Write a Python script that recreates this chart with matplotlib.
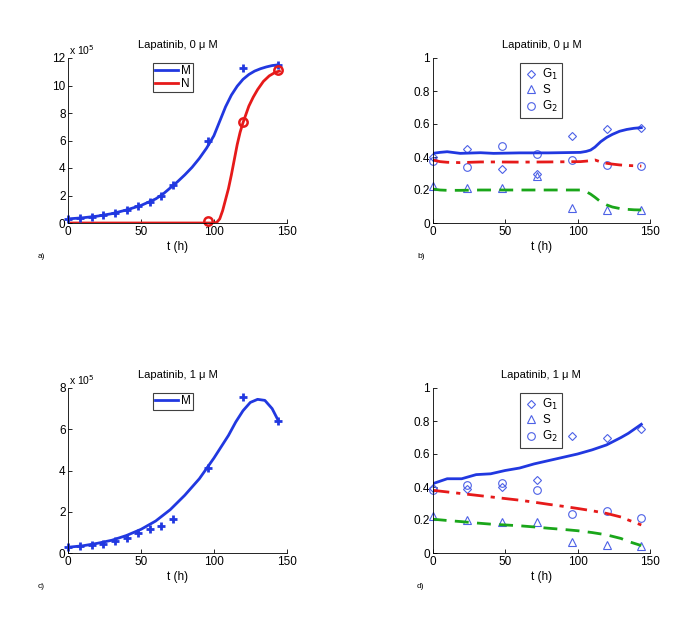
import matplotlib
matplotlib.use("Agg")
import matplotlib.pyplot as plt

plt.rcParams['font.family'] = ['Liberation Sans', 'DejaVu Sans']

# ---- data ----
t_obs = [0, 8, 16, 24, 32, 40, 48, 56, 64, 72, 96, 120, 144]
t_frac = [0, 24, 48, 72, 96, 120, 144]

# a) 0 uM, cell counts (x 1e5)
M0_obs = [0.32, 0.36, 0.44, 0.56, 0.73, 0.97, 1.21, 1.55, 1.96, 2.79, 5.94, 11.25, 11.5]
N0_t = [96, 120, 144]
N0_obs = [0.12, 7.32, 11.15]
M0_fit_t = [0, 10, 20, 30, 40, 50, 60, 65, 70, 75, 80, 85, 90, 95, 100, 104, 108, 112,
            116, 120, 124, 128, 132, 136, 140, 144]
M0_fit = [0.3, 0.38, 0.5, 0.68, 0.95, 1.28, 1.75, 2.1, 2.55, 3.0, 3.5, 4.05, 4.7, 5.45,
          6.35, 7.4, 8.45, 9.3, 9.95, 10.45, 10.8, 11.05, 11.22, 11.35, 11.45, 11.5]
N0_fit_t = [0, 100, 102, 104, 106, 108, 110, 112, 114, 116, 118, 120, 122, 124, 127,
            130, 134, 138, 142, 145]
N0_fit = [0, 0, 0.05, 0.3, 0.9, 1.7, 2.5, 3.5, 4.6, 5.7, 6.6, 7.3, 7.9, 8.5, 9.15,
          9.7, 10.3, 10.7, 10.95, 11.05]

# b) 0 uM, phase fractions
G1_0 = [0.40, 0.448, 0.33, 0.30, 0.53, 0.57, 0.576]
S_0 = [0.222, 0.212, 0.212, 0.283, 0.09, 0.077, 0.077]
G2_0 = [0.378, 0.34, 0.465, 0.418, 0.384, 0.354, 0.348]
fb_t = [0, 5, 10, 19, 33, 42, 60, 80, 102, 106, 109, 112, 116, 120, 124, 129, 134, 139, 144]
G1_0_fit = [0.422, 0.428, 0.432, 0.422, 0.426, 0.422, 0.425, 0.425, 0.428, 0.434, 0.442,
            0.46, 0.493, 0.518, 0.537, 0.556, 0.567, 0.574, 0.578]
S_0_fit = [0.206, 0.2, 0.198, 0.198, 0.2, 0.2, 0.2, 0.2, 0.2, 0.19, 0.175, 0.156, 0.128,
           0.11, 0.097, 0.088, 0.083, 0.08, 0.079]
G2_0_fit = [0.382, 0.372, 0.368, 0.366, 0.37, 0.37, 0.369, 0.37, 0.372, 0.375, 0.378,
            0.382, 0.37, 0.362, 0.357, 0.352, 0.349, 0.347, 0.345]

# c) 1 uM, cell counts (x 1e5)
M1_obs = [0.27, 0.32, 0.37, 0.44, 0.57, 0.73, 0.97, 1.16, 1.29, 1.65, 4.12, 7.56, 6.42]
M1_fit_t = [0, 10, 20, 30, 40, 50, 60, 70, 80, 90, 100, 110, 115, 120, 125, 130, 135,
            140, 144]
M1_fit = [0.28, 0.35, 0.47, 0.62, 0.85, 1.15, 1.55, 2.1, 2.8, 3.6, 4.6, 5.7, 6.35, 6.9,
          7.3, 7.45, 7.4, 7.0, 6.45]

# d) 1 uM, phase fractions
G1_1 = [0.394, 0.39, 0.40, 0.444, 0.707, 0.70, 0.75]
S_1 = [0.222, 0.20, 0.186, 0.186, 0.065, 0.048, 0.04]
G2_1 = [0.38, 0.414, 0.424, 0.38, 0.238, 0.257, 0.212]
fd_t = [0, 10, 20, 30, 40, 50, 60, 70, 80, 90, 100, 110, 120, 130, 135, 144]
G1_1_fit = [0.42, 0.45, 0.45, 0.475, 0.48, 0.5, 0.515, 0.54, 0.56, 0.58, 0.60, 0.625,
            0.655, 0.70, 0.725, 0.78]
S_1_fit = [0.205, 0.197, 0.19, 0.182, 0.175, 0.17, 0.165, 0.158, 0.15, 0.143, 0.135,
           0.124, 0.11, 0.088, 0.07, 0.045]
G2_1_fit = [0.38, 0.37, 0.36, 0.35, 0.34, 0.33, 0.32, 0.308, 0.295, 0.283, 0.27, 0.256,
            0.24, 0.218, 0.2, 0.17]

blue = (0.13, 0.22, 0.88)
mblue = (0.30, 0.38, 0.90)
red = (0.90, 0.10, 0.10)
green = (0.10, 0.65, 0.10)

fig = plt.figure(figsize=(6.85, 6.23), dpi=100)
W, H = 685.0, 623.0


def make_axes(x0, x1, ytop, ybot):
    ax = fig.add_axes([x0 / W, 1 - ybot / H, (x1 - x0) / W, (ybot - ytop) / H])
    ax.spines['top'].set_visible(False)
    ax.spines['right'].set_visible(False)
    ax.spines['left'].set_linewidth(0.6)
    ax.spines['bottom'].set_linewidth(0.6)
    ax.tick_params(direction='in', length=3, width=0.6, labelsize=8.5, pad=2)
    ax.set_xlim(0, 150)
    ax.set_xticks([0, 50, 100, 150])
    ax.set_xlabel('t (h)', fontsize=8.5, labelpad=2)
    return ax


def style_legend(leg):
    fr = leg.get_frame()
    fr.set_boxstyle('square', pad=0)
    fr.set_edgecolor('0.25')
    fr.set_linewidth(0.8)


# a)
ax = make_axes(68.3, 286.7, 58, 223)
ax.plot(M0_fit_t, M0_fit, color=blue, lw=2, label='M')
ax.plot(N0_fit_t, N0_fit, color=red, lw=2, label='N')
ax.plot(t_obs, M0_obs, '+', color=blue, ms=6, mew=2, clip_on=False)
ax.plot(N0_t, N0_obs, 'o', mfc='none', mec=red, ms=6, mew=1.8, clip_on=False)
ax.set_ylim(0, 12)
ax.set_yticks(range(0, 13, 2))
ax.set_title('Lapatinib, 0 \u03bc M', fontsize=8, pad=7)
ax.text(0.005, 1.005, r'x 10$^5$', transform=ax.transAxes, fontsize=7.5, va='bottom')
leg = ax.legend(loc='upper center', bbox_to_anchor=(0.48, 0.985), fontsize=8.5,
                handlelength=1.9, handletextpad=0.3, borderpad=0.2, labelspacing=0.05,
                borderaxespad=0.2, fancybox=False, framealpha=1)
style_legend(leg)
fig.text(38 / W, 1 - 257 / H, 'a)', fontsize=6, va='center')


def phase_panel(ytop, ybot, g1, s, g2, ft, g1f, sf, g2f, title, label, ly):
    ax = make_axes(432.7, 650, ytop, ybot)
    ax.plot(t_frac, g1, 'D', mfc='none', mec=mblue, ms=4.5, mew=0.8, label='G$_1$',
            clip_on=False)
    ax.plot(t_frac, s, '^', mfc='none', mec=mblue, ms=5.5, mew=0.8, label='S',
            clip_on=False)
    ax.plot(t_frac, g2, 'o', mfc='none', mec=mblue, ms=5.5, mew=0.8, label='G$_2$',
            clip_on=False)
    ax.plot(ft, g1f, '-', color=blue, lw=2)
    ax.plot(ft, sf, '--', color=green, lw=2, dashes=(5, 3))
    ax.plot(ft, g2f, '-.', color=red, lw=2, dashes=(6, 2.5, 1.5, 2.5))
    ax.set_ylim(0, 1)
    ax.set_yticks([0, 0.2, 0.4, 0.6, 0.8, 1])
    ax.set_yticklabels(['0', '0.2', '0.4', '0.6', '0.8', '1'])
    ax.set_title(title, fontsize=8, pad=7)
    leg = ax.legend(loc='upper center', bbox_to_anchor=(0.5, ly), fontsize=8.5,
                    handlelength=1.0, handletextpad=0.5, borderpad=0.35,
                    labelspacing=0.2, borderaxespad=0.2, fancybox=False, framealpha=1)
    style_legend(leg)
    fig.text(417 / W, 1 - (ybot + 34) / H, label, fontsize=6, va='center')
    return ax


# b)
phase_panel(58, 223, G1_0, S_0, G2_0, fb_t, G1_0_fit, S_0_fit, G2_0_fit,
            'Lapatinib, 0 \u03bc M', 'b)', 0.985)

# c)
ax = make_axes(68.3, 286.7, 388, 553)
ax.plot(M1_fit_t, M1_fit, color=blue, lw=2, label='M')
ax.plot(t_obs, M1_obs, '+', color=blue, ms=6, mew=2, clip_on=False)
ax.set_ylim(0, 8)
ax.set_yticks(range(0, 9, 2))
ax.set_title('Lapatinib, 1 \u03bc M', fontsize=8, pad=7)
ax.text(0.005, 1.005, r'x 10$^5$', transform=ax.transAxes, fontsize=7.5, va='bottom')
leg = ax.legend(loc='upper center', bbox_to_anchor=(0.48, 0.985), fontsize=8.5,
                handlelength=1.9, handletextpad=0.3, borderpad=0.2,
                borderaxespad=0.2, fancybox=False, framealpha=1)
style_legend(leg)
fig.text(38 / W, 1 - 587 / H, 'c)', fontsize=6, va='center')

# d)
phase_panel(388, 553, G1_1, S_1, G2_1, fd_t, G1_1_fit, S_1_fit, G2_1_fit,
            'Lapatinib, 1 \u03bc M', 'd)', 0.985)

fig.savefig('out.png', dpi=100)
